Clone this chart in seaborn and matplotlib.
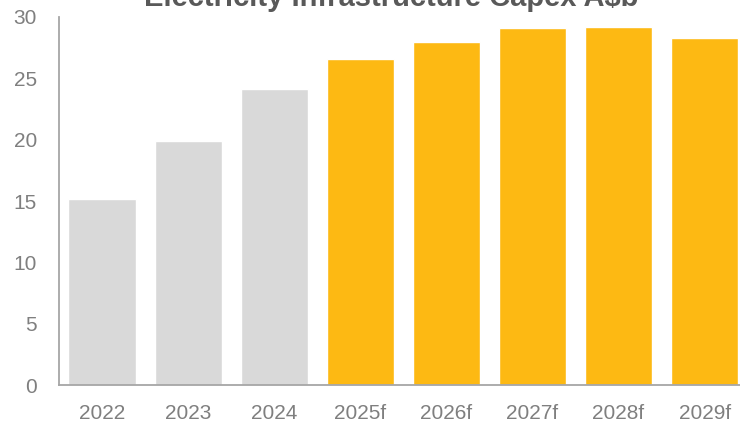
import matplotlib
matplotlib.use("Agg")
import matplotlib.pyplot as plt
import seaborn as sns
import pandas as pd

years = ["2022", "2023", "2024", "2025f", "2026f", "2027f", "2028f", "2029f"]
capex = [15.2, 19.9, 24.1, 26.6, 28.0, 29.1, 29.2, 28.3]
kind = ["actual", "actual", "actual", "forecast", "forecast", "forecast", "forecast", "forecast"]
title = "Electricity Infrastructure Capex A$b"
yticks = [0, 5, 10, 15, 20, 25, 30]

sns.set_theme(style="white")
plt.rcParams["font.family"] = ["Liberation Sans", "DejaVu Sans"]

df = pd.DataFrame({"year": years, "capex": capex, "kind": kind})
palette = {"actual": "#d9d9d9", "forecast": "#fdb913"}

fig = plt.figure(figsize=(7.4, 4.23), dpi=100)
ax = fig.add_axes([59 / 740, 38 / 423, 688.6 / 740, 368 / 423])
sns.barplot(data=df, x="year", y="capex", hue="kind", palette=palette,
            dodge=False, width=0.78, legend=False, ax=ax, saturation=1)

ax.set_xlim(-0.5, 7.5)
ax.set_ylim(0, 30)
ax.set_yticks(yticks)
ax.set_xlabel("")
ax.set_ylabel("")
for s in ["top", "right"]:
    ax.spines[s].set_visible(False)
for s in ["left", "bottom"]:
    ax.spines[s].set_color("#a6a6a6")
    ax.spines[s].set_linewidth(1.3)
ax.tick_params(axis="both", length=0, labelsize=15, colors="#7f7f7f")
ax.tick_params(axis="y", pad=16)
ax.tick_params(axis="x", pad=14)

fig.text(391 / 740, 1 - 5.5 / 423, title, ha="center", va="baseline",
         fontsize=21, fontweight="bold", color="#595959")

fig.savefig("out.png", dpi=100)
